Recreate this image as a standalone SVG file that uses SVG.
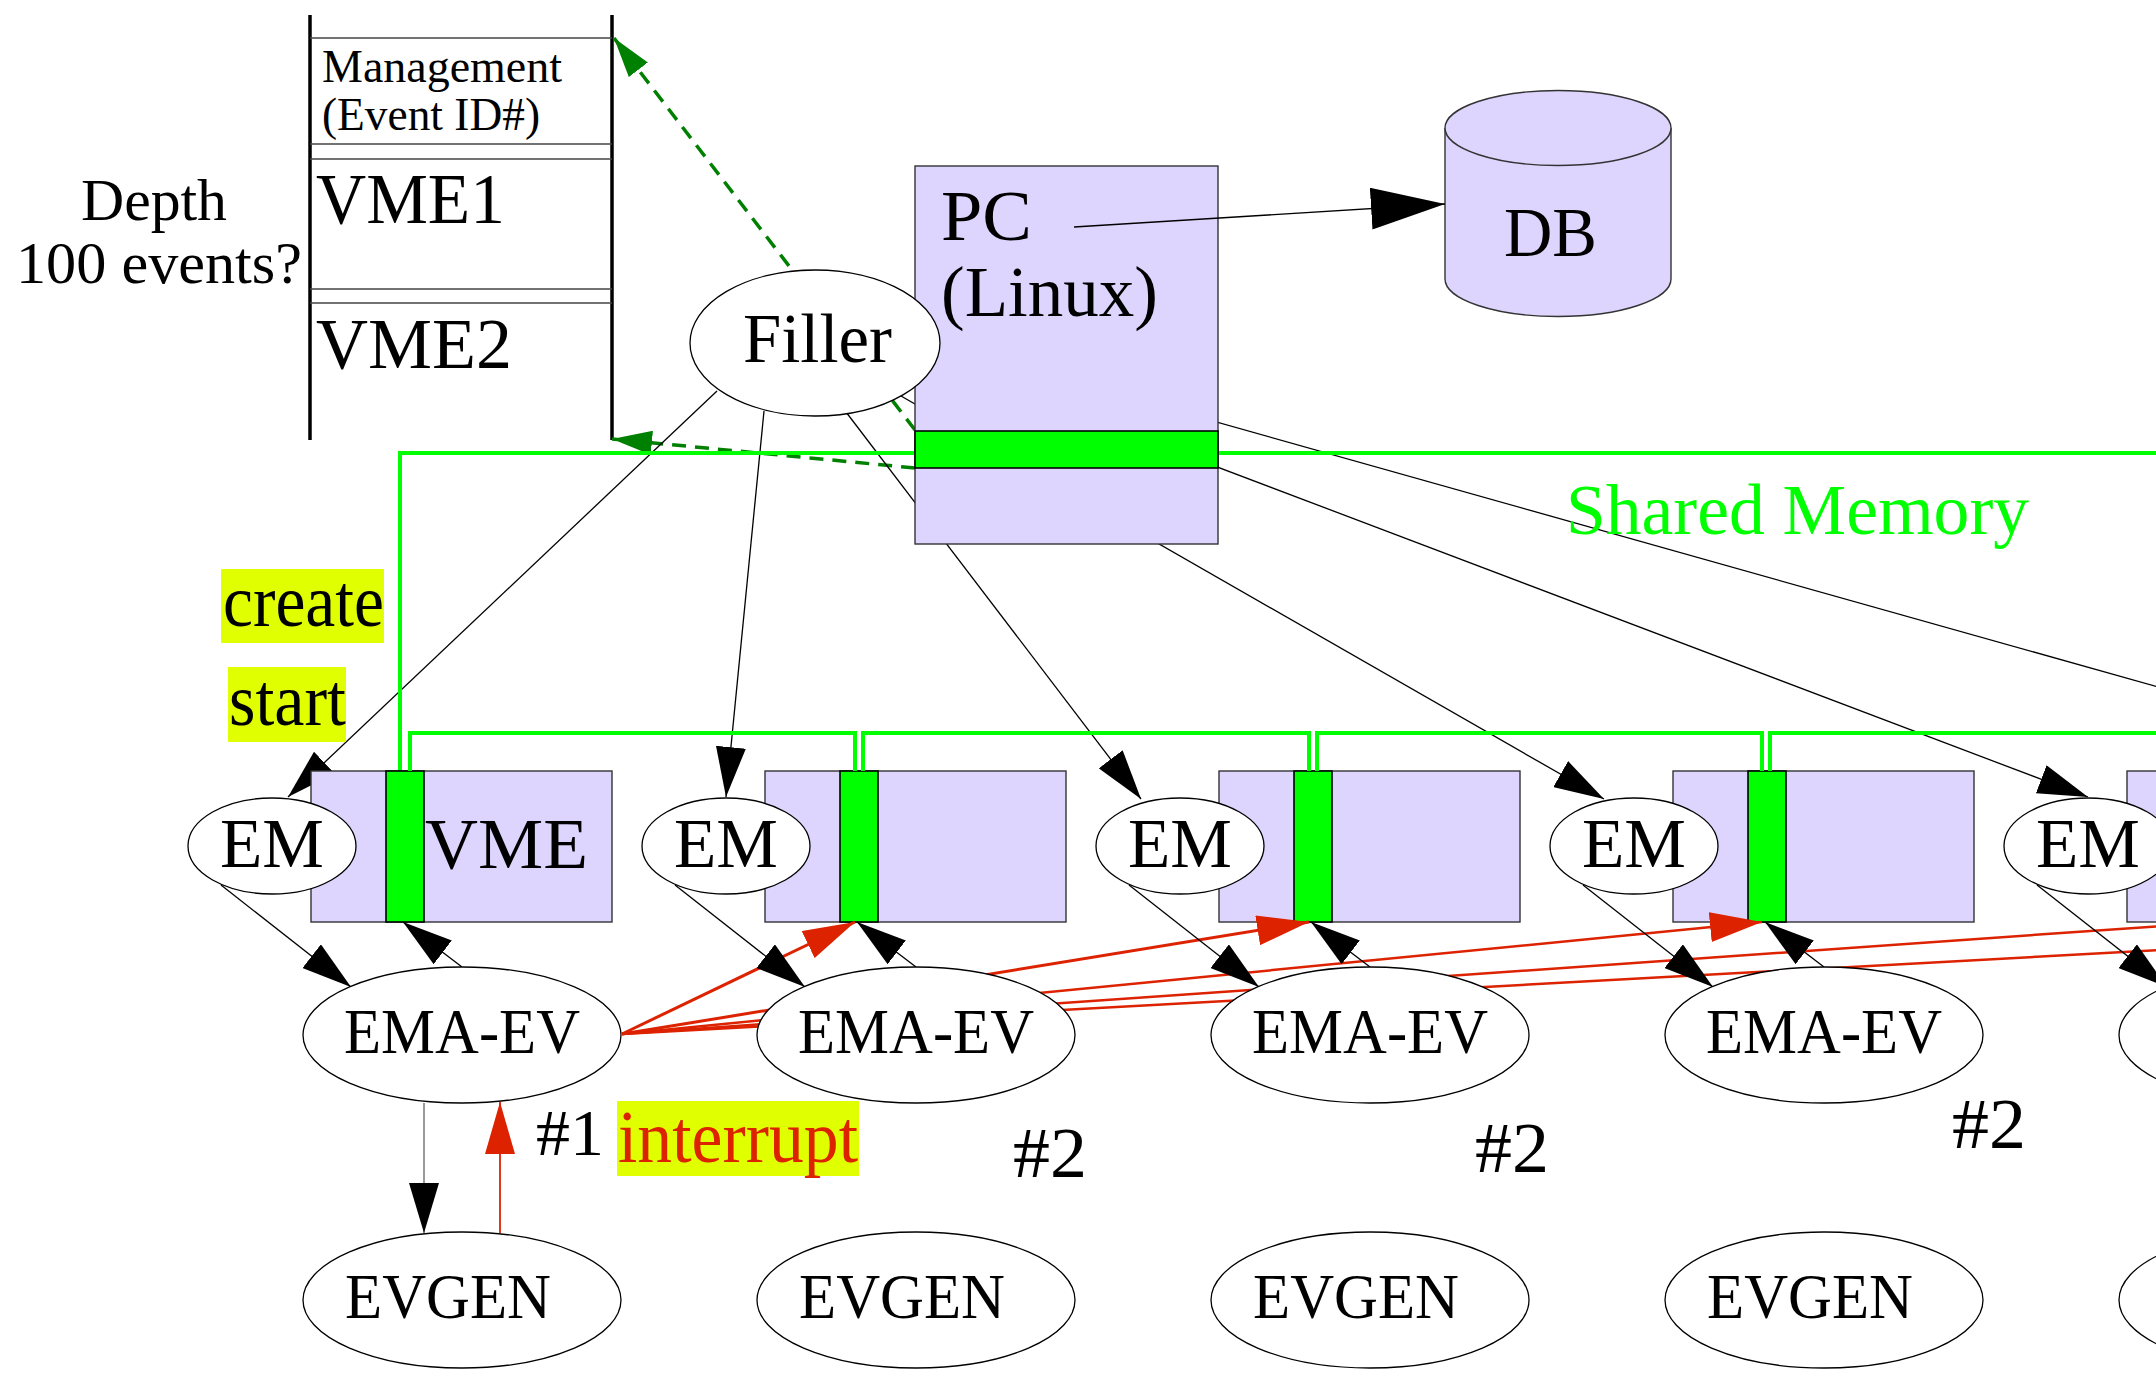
<svg xmlns="http://www.w3.org/2000/svg" width="2156" height="1375" viewBox="0 0 2156 1375">
<style>
text{font-family:"Liberation Serif","Times New Roman",serif;fill:#000}
.box{fill:#ddd5fd;stroke:#333;stroke-width:1.4}
.bar{fill:#00ff00;stroke:#000;stroke-width:1.6}
.node{fill:#fff;stroke:#000;stroke-width:1.3}
.ln{stroke:#000;stroke-width:1.3;fill:none}
.red{stroke:#dd2200;fill:none}
.gdash{stroke:#008000;stroke-width:3.5;stroke-dasharray:14 9;fill:none}
.bus{stroke:#00ff00;stroke-width:4;fill:none}
.hl{fill:#e0ff00}
.sep{stroke:#444;stroke-width:1.4}
.stk{stroke:#000;stroke-width:3.5}
</style>
<defs>
<marker id="ab" markerUnits="userSpaceOnUse" markerWidth="50" markerHeight="30" refX="50" refY="15" orient="auto"><path d="M0,0 L50,15 L0,30 z" fill="#000"/></marker>
<marker id="abig" markerUnits="userSpaceOnUse" markerWidth="74" markerHeight="42" refX="74" refY="21" orient="auto"><path d="M0,0 L74,21 L0,42 z" fill="#000"/></marker>
<marker id="ar" markerUnits="userSpaceOnUse" markerWidth="52" markerHeight="30" refX="52" refY="15" orient="auto"><path d="M0,0 L52,15 L0,30 z" fill="#dd2200"/></marker>
<marker id="ag" markerUnits="userSpaceOnUse" markerWidth="40" markerHeight="24" refX="40" refY="12" orient="auto"><path d="M0,0 L40,12 L0,24 z" fill="#008000"/></marker>
</defs>

<g id="stack">
<line class="stk" x1="310" y1="15" x2="310" y2="440"/>
<line class="stk" x1="612" y1="15" x2="612" y2="440"/>
<line class="sep" x1="310" y1="38" x2="612" y2="38"/>
<line class="sep" x1="310" y1="144" x2="612" y2="144"/>
<line class="sep" x1="310" y1="159" x2="612" y2="159"/>
<line class="sep" x1="310" y1="289" x2="612" y2="289"/>
<line class="sep" x1="310" y1="303" x2="612" y2="303"/>
<text x="322" y="82" font-size="46" textLength="240" lengthAdjust="spacingAndGlyphs">Management</text>
<text x="322" y="130" font-size="46" textLength="218" lengthAdjust="spacingAndGlyphs">(Event ID#)</text>
<text x="316" y="223" font-size="72" textLength="189" lengthAdjust="spacingAndGlyphs">VME1</text>
<text x="316" y="368" font-size="72" textLength="196" lengthAdjust="spacingAndGlyphs">VME2</text>
</g>
<g id="depth-label">
<text x="81" y="220" font-size="60" textLength="146" lengthAdjust="spacingAndGlyphs">Depth</text>
<text x="16" y="283" font-size="60" textLength="286" lengthAdjust="spacingAndGlyphs">100 events?</text>
</g>

<g id="connectors-back">
<line class="gdash" x1="915" y1="430" x2="614" y2="38" marker-end="url(#ag)"/>
<line class="gdash" x1="915" y1="468" x2="612" y2="439" marker-end="url(#ag)"/>
<line class="ln" x1="717" y1="391" x2="288" y2="797" marker-end="url(#ab)"/>
<line class="ln" x1="764" y1="411" x2="726" y2="797" marker-end="url(#ab)"/>
<line class="ln" x1="846" y1="412" x2="1141" y2="799" marker-end="url(#ab)"/>
<line class="ln" x1="901" y1="396" x2="1604" y2="799" marker-end="url(#ab)"/>
<line class="ln" x1="935" y1="360" x2="2088" y2="797" marker-end="url(#ab)"/>
<line class="ln" x1="939" y1="344" x2="2542" y2="795"/>
<path class="bus" d="M400,771 V453 H2156"/>
</g>

<g id="pc">
<rect class="box" x="915" y="166" width="303" height="378"/>
<rect class="bar" x="915" y="431" width="303" height="37"/>
<text x="941" y="240" font-size="72" textLength="91" lengthAdjust="spacingAndGlyphs">PC</text>
<text x="941" y="316" font-size="72" textLength="217" lengthAdjust="spacingAndGlyphs">(Linux)</text>
</g>

<g id="filler">
<ellipse class="node" cx="815" cy="343" rx="125" ry="73"/>
<text x="743" y="362" font-size="70" textLength="149" lengthAdjust="spacingAndGlyphs">Filler</text>
</g>

<g id="db">
<path class="box" d="M1445,128 V279 A113,37.5 0 0 0 1671,279 V128"/>
<ellipse class="box" cx="1558" cy="128" rx="113" ry="37.5"/>
<text x="1504" y="256" font-size="70" textLength="93" lengthAdjust="spacingAndGlyphs">DB</text>
</g>

<g id="shared-memory-label">
<text x="1566" y="534" font-size="72" textLength="463" lengthAdjust="spacingAndGlyphs" style="fill:#00ff00">Shared Memory</text>
</g>

<g id="vme1"><rect class="box" x="311" y="771" width="301" height="151"/><rect class="bar" x="386" y="771" width="38" height="151"/><text x="425" y="868" font-size="72" textLength="163" lengthAdjust="spacingAndGlyphs">VME</text></g>
<g id="vme2"><rect class="box" x="765" y="771" width="301" height="151"/><rect class="bar" x="840" y="771" width="38" height="151"/></g>
<g id="vme3"><rect class="box" x="1219" y="771" width="301" height="151"/><rect class="bar" x="1294" y="771" width="38" height="151"/></g>
<g id="vme4"><rect class="box" x="1673" y="771" width="301" height="151"/><rect class="bar" x="1748" y="771" width="38" height="151"/></g>
<g id="vme5"><rect class="box" x="2127" y="771" width="301" height="151"/><rect class="bar" x="2202" y="771" width="38" height="151"/></g>

<g id="connectors">
<path class="bus" d="M410,771 V733 H855 V771 M863,771 V733 H1309 V771 M1317,771 V733 H1762 V771 M1770,771 V733 H2216 V771"/>
<line class="ln" x1="1074" y1="227" x2="1445" y2="204" marker-end="url(#abig)"/>
<line class="red" stroke-width="3" x1="622" y1="1034" x2="855" y2="922" marker-end="url(#ar)"/>
<line class="red" stroke-width="3" x1="622" y1="1034" x2="1309" y2="922" marker-end="url(#ar)"/>
<line class="red" stroke-width="2.5" x1="622" y1="1034" x2="1762" y2="922" marker-end="url(#ar)"/>
<line class="red" stroke-width="2.5" x1="622" y1="1034" x2="2219" y2="922" marker-end="url(#ar)"/>
<line class="red" stroke-width="2.5" x1="622" y1="1034" x2="2675" y2="922"/>
<line class="ln" x1="221" y1="885" x2="351" y2="987" marker-end="url(#ab)"/>
<line class="ln" x1="675" y1="885" x2="805" y2="987" marker-end="url(#ab)"/>
<line class="ln" x1="1129" y1="885" x2="1259" y2="987" marker-end="url(#ab)"/>
<line class="ln" x1="1583" y1="885" x2="1713" y2="987" marker-end="url(#ab)"/>
<line class="ln" x1="2037" y1="885" x2="2167" y2="987" marker-end="url(#ab)"/>
<line class="ln" x1="462" y1="967" x2="403" y2="922" marker-end="url(#ab)"/>
<line class="ln" x1="916" y1="967" x2="857" y2="922" marker-end="url(#ab)"/>
<line class="ln" x1="1370" y1="967" x2="1311" y2="922" marker-end="url(#ab)"/>
<line class="ln" x1="1824" y1="967" x2="1765" y2="922" marker-end="url(#ab)"/>
<line x1="424" y1="1103" x2="424" y2="1233" stroke="#777" stroke-width="1.5" marker-end="url(#ab)"/>
<line class="red" stroke-width="1.8" x1="500" y1="1233" x2="500" y2="1102" marker-end="url(#ar)"/>
</g>

<g id="em1"><ellipse class="node" cx="272" cy="846" rx="84" ry="48"/><text x="272" y="867" font-size="70" text-anchor="middle" textLength="104" lengthAdjust="spacingAndGlyphs">EM</text></g>
<g id="em2"><ellipse class="node" cx="726" cy="846" rx="84" ry="48"/><text x="726" y="867" font-size="70" text-anchor="middle" textLength="104" lengthAdjust="spacingAndGlyphs">EM</text></g>
<g id="em3"><ellipse class="node" cx="1180" cy="846" rx="84" ry="48"/><text x="1180" y="867" font-size="70" text-anchor="middle" textLength="104" lengthAdjust="spacingAndGlyphs">EM</text></g>
<g id="em4"><ellipse class="node" cx="1634" cy="846" rx="84" ry="48"/><text x="1634" y="867" font-size="70" text-anchor="middle" textLength="104" lengthAdjust="spacingAndGlyphs">EM</text></g>
<g id="em5"><ellipse class="node" cx="2088" cy="846" rx="84" ry="48"/><text x="2088" y="867" font-size="70" text-anchor="middle" textLength="104" lengthAdjust="spacingAndGlyphs">EM</text></g>

<g id="emaev1"><ellipse class="node" cx="462" cy="1035" rx="159" ry="68"/><text x="462" y="1053" font-size="64" text-anchor="middle" textLength="236" lengthAdjust="spacingAndGlyphs">EMA-EV</text></g>
<g id="emaev2"><ellipse class="node" cx="916" cy="1035" rx="159" ry="68"/><text x="916" y="1053" font-size="64" text-anchor="middle" textLength="236" lengthAdjust="spacingAndGlyphs">EMA-EV</text></g>
<g id="emaev3"><ellipse class="node" cx="1370" cy="1035" rx="159" ry="68"/><text x="1370" y="1053" font-size="64" text-anchor="middle" textLength="236" lengthAdjust="spacingAndGlyphs">EMA-EV</text></g>
<g id="emaev4"><ellipse class="node" cx="1824" cy="1035" rx="159" ry="68"/><text x="1824" y="1053" font-size="64" text-anchor="middle" textLength="236" lengthAdjust="spacingAndGlyphs">EMA-EV</text></g>
<g id="emaev5"><ellipse class="node" cx="2278" cy="1035" rx="159" ry="68"/></g>

<g id="evgen1"><ellipse class="node" cx="462" cy="1300" rx="159" ry="68"/><text x="448" y="1318" font-size="64" text-anchor="middle" textLength="206" lengthAdjust="spacingAndGlyphs">EVGEN</text></g>
<g id="evgen2"><ellipse class="node" cx="916" cy="1300" rx="159" ry="68"/><text x="902" y="1318" font-size="64" text-anchor="middle" textLength="206" lengthAdjust="spacingAndGlyphs">EVGEN</text></g>
<g id="evgen3"><ellipse class="node" cx="1370" cy="1300" rx="159" ry="68"/><text x="1356" y="1318" font-size="64" text-anchor="middle" textLength="206" lengthAdjust="spacingAndGlyphs">EVGEN</text></g>
<g id="evgen4"><ellipse class="node" cx="1824" cy="1300" rx="159" ry="68"/><text x="1810" y="1318" font-size="64" text-anchor="middle" textLength="206" lengthAdjust="spacingAndGlyphs">EVGEN</text></g>
<g id="evgen5"><ellipse class="node" cx="2278" cy="1300" rx="159" ry="68"/></g>

<g id="labels">
<rect class="hl" x="221" y="569" width="163" height="74"/>
<text x="223" y="626" font-size="74" textLength="161" lengthAdjust="spacingAndGlyphs">create</text>
<rect class="hl" x="228" y="667" width="118" height="75"/>
<text x="229" y="725" font-size="74" textLength="117" lengthAdjust="spacingAndGlyphs">start</text>
<rect class="hl" x="617" y="1101" width="242" height="75"/>
<text x="618" y="1162" font-size="74" textLength="240" lengthAdjust="spacingAndGlyphs" style="fill:#dd2200">interrupt</text>
<text x="536" y="1155" font-size="66" textLength="68" lengthAdjust="spacingAndGlyphs">#1</text>
<text x="1013" y="1177" font-size="72" textLength="74" lengthAdjust="spacingAndGlyphs">#2</text>
<text x="1475" y="1172" font-size="72" textLength="74" lengthAdjust="spacingAndGlyphs">#2</text>
<text x="1952" y="1148" font-size="72" textLength="74" lengthAdjust="spacingAndGlyphs">#2</text>
</g>
</svg>
